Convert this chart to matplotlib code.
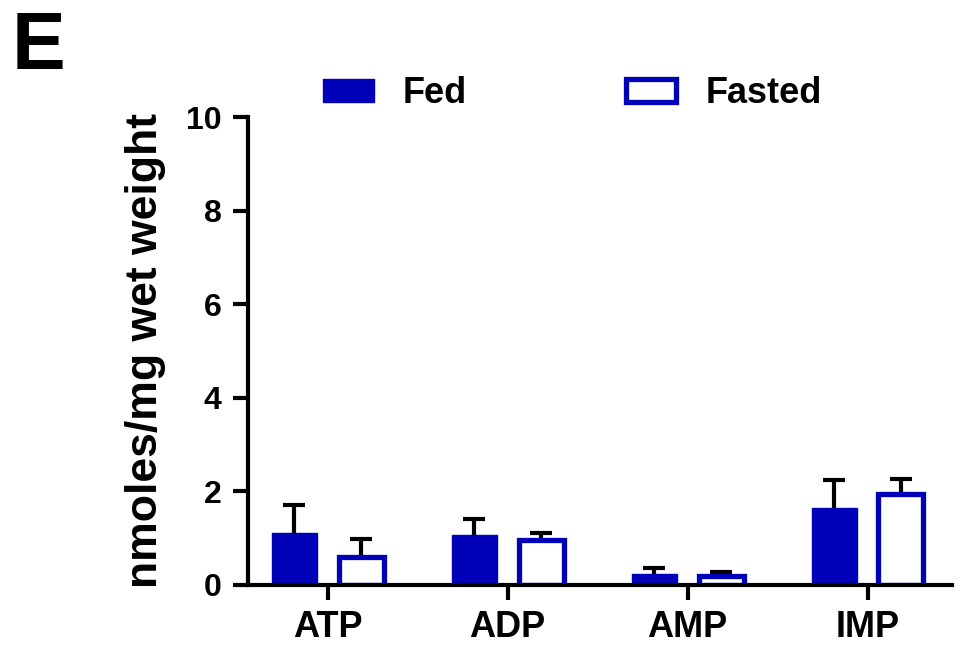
import matplotlib.pyplot as plt
import numpy as np

plt.rcParams['font.family'] = ['Liberation Sans', 'DejaVu Sans']
plt.rcParams['font.weight'] = 'bold'

categories = ['ATP', 'ADP', 'AMP', 'IMP']
fed = [1.11, 1.07, 0.23, 1.64]
fed_err = [0.60, 0.34, 0.13, 0.60]
fasted = [0.60, 0.96, 0.19, 1.94]
fasted_err = [0.38, 0.15, 0.09, 0.32]

blue = '#0000B8'

fig = plt.figure(figsize=(9.68, 6.69), dpi=100)
ax = fig.add_axes([0.256, 0.126, 0.727, 0.699])

x = np.arange(len(categories))
w = 0.25
off = 0.186


def up_errors(xs, heights, errs):
    # only the upper half of the error bar, as in the original figure
    eb = ax.errorbar(xs, heights, yerr=[np.zeros(len(errs)), errs], fmt='none',
                     ecolor='black', elinewidth=3, capsize=8, capthick=3, zorder=1)
    for cl in eb[1]:
        if np.allclose(cl.get_ydata(), heights):
            cl.set_visible(False)


ax.bar(x - off, fed, w, color=blue, edgecolor=blue, linewidth=1, label='Fed', zorder=2)
ax.bar(x + off, fasted, w, color='white', edgecolor=blue, linewidth=3.8,
       label='Fasted', zorder=2)
up_errors(x - off, fed, fed_err)
up_errors(x + off, fasted, fasted_err)

ax.set_xlim(-0.444, 3.467)
ax.set_ylim(0, 10)
ax.set_yticks([0, 2, 4, 6, 8, 10])
ax.set_xticks(x)
ax.set_xticklabels(categories)
ax.spines['top'].set_visible(False)
ax.spines['right'].set_visible(False)
ax.spines['left'].set_linewidth(3)
ax.spines['bottom'].set_linewidth(3)
ax.tick_params(axis='both', width=3, length=11)
ax.tick_params(axis='y', labelsize=23, pad=8)
ax.tick_params(axis='x', labelsize=26, pad=7)
ax.set_ylabel('nmoles/mg wet weight', fontsize=32, fontweight='bold')
ax.yaxis.set_label_coords(-0.116, 0.5)

fig.legend(loc='center left', bbox_to_anchor=(0.334, 0.86), ncol=2, frameon=False,
           fontsize=26, handlelength=1.4, handleheight=0.6, columnspacing=4.4,
           handletextpad=0.8, borderpad=0, borderaxespad=0)

fig.text(0.012, 0.985, 'E', fontsize=58, fontweight='bold', va='top')

fig.savefig('out.png', dpi=100)
